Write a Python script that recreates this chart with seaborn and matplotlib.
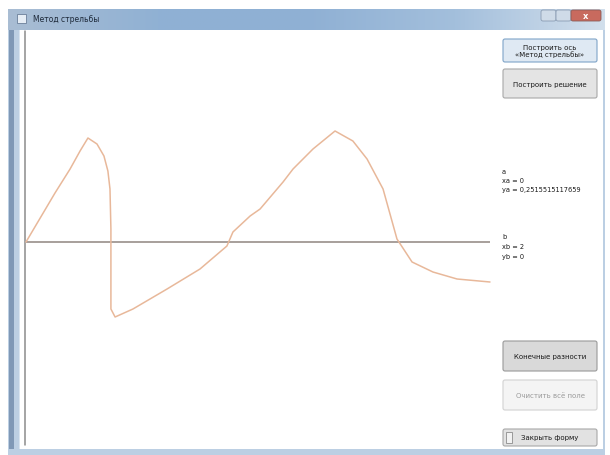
"""Recreate a screenshot of a small WinForms-style window with a solution curve."""
import matplotlib

matplotlib.use("Agg")

import matplotlib.pyplot as plt
import numpy as np
import seaborn as sns
from matplotlib.colors import LinearSegmentedColormap
from matplotlib.patches import FancyBboxPatch, Rectangle

# curve (x over [0, 2], y in arbitrary units)
x_vals = [0.000, 0.125, 0.190, 0.233, 0.267, 0.306, 0.336, 0.353, 0.362,
          0.366, 0.366, 0.366, 0.384, 0.461, 0.608, 0.750, 0.866, 0.892, 0.966,
          1.009, 1.108, 1.151, 1.237, 1.332, 1.409, 1.470, 1.539, 1.599, 1.664,
          1.754, 1.858, 2.000]
y_vals = [0.00, 0.49, 0.73, 0.91, 1.04, 0.98, 0.86, 0.71, 0.53,
          0.13, -0.37, -0.67, -0.75, -0.67, -0.47, -0.27, -0.04, 0.10, 0.26,
          0.33, 0.60, 0.73, 0.93, 1.11, 1.01, 0.83, 0.53, 0.03, -0.20,
          -0.30, -0.37, -0.40]

window_title = "Метод стрельбы"
button_labels = ["Построить ось\n«Метод стрельбы»", "Построить решение",
                 "Конечные разности", "Очистить всё поле", "Закрыть форму"]
point_a = ["a", "xa = 0", "ya = 0,2515515117659"]
point_b = ["b", "xb = 2", "yb = 0"]

# pixel mapping of the plotting area
X0_PX, PX_PER_X = 26, 232
Y0_PX, PX_PER_Y = 243, 100
W, H = 610, 456

sns.set_style("white")
plt.rcParams["font.family"] = ["DejaVu Sans"]

fig = plt.figure(figsize=(W / 100, H / 100), dpi=100)

# window chrome, drawn in pixel coordinates
bg = fig.add_axes([0, 0, 1, 1])
bg.set_xlim(0, W)
bg.set_ylim(H, 0)
bg.axis("off")

bg.add_patch(Rectangle((8, 10), 597, 446, color="#bccfe3", lw=0))
grad = np.linspace(0, 1, 256).reshape(1, -1)
aero = LinearSegmentedColormap.from_list(
    "aero", ["#a9bdd3", "#90b1d4", "#8fb0d4", "#a3bfdc", "#d2dfec"])
bg.imshow(grad, extent=[8, 605, 31, 10], cmap=aero, aspect="auto", zorder=1)
bg.add_patch(Rectangle((9, 31), 5, 419, color="#7f98b6", lw=0, zorder=1))
bg.add_patch(Rectangle((20, 31), 583, 419, color="white", lw=0, zorder=2))
bg.add_patch(Rectangle((19, 31), 1, 419, color="#d9e4ef", lw=0, zorder=2))

# caption buttons
bg.add_patch(FancyBboxPatch((541, 11), 15, 11, boxstyle="round,pad=0,rounding_size=2",
                            fc="#cfdbe8", ec="#8a9cb3", lw=0.6, zorder=3))
bg.add_patch(FancyBboxPatch((556, 11), 15, 11, boxstyle="round,pad=0,rounding_size=2",
                            fc="#cfdbe8", ec="#8a9cb3", lw=0.6, zorder=3))
bg.add_patch(FancyBboxPatch((571, 11), 30, 11, boxstyle="round,pad=0,rounding_size=2",
                            fc="#c86a5e", ec="#8a5a55", lw=0.6, zorder=3))
bg.text(586, 16.5, "x", fontsize=6, color="white", ha="center", va="center",
        fontweight="bold", zorder=4)

bg.add_patch(Rectangle((17, 15), 9, 9, fc="#e6edf5", ec="#6a7f99", lw=0.6, zorder=3))
bg.text(33, 20, window_title, fontsize=5.5, color="#1e2a3a", va="center", zorder=3)

# chart frame line on the left
bg.plot([25, 25], [32, 446], color="#8c8c8c", lw=1.1, zorder=3)

# right-hand buttons
buttons = [
    (503, 40, 94, 23, "#dfe9f3", "#7fa4c8", "#1a1a1a"),
    (503, 70, 94, 29, "#e4e4e4", "#a8a8a8", "#1a1a1a"),
    (503, 342, 94, 30, "#d9d9d9", "#9a9a9a", "#1a1a1a"),
    (503, 381, 94, 30, "#f4f4f4", "#d2d2d2", "#9a9a9a"),
    (503, 430, 94, 17, "#e2e2e2", "#a8a8a8", "#1a1a1a"),
]
for (bx, by, bw, bh, fc, ec, tc), label in zip(buttons, button_labels):
    bg.add_patch(FancyBboxPatch((bx, by), bw, bh, boxstyle="round,pad=0,rounding_size=2",
                                fc=fc, ec=ec, lw=0.8, zorder=3))
    bg.text(bx + bw / 2, by + bh / 2, label, fontsize=5, color=tc, ha="center",
            va="center", linespacing=1.1, zorder=4)
# small glyph at the left of the last button
bg.add_patch(Rectangle((506, 433), 6, 11, fc="#f2f2f2", ec="#8c8c8c", lw=0.6, zorder=4))

for i, line in enumerate(point_a):
    bg.text(502, 172 + 9 * i, line, fontsize=4.8, color="#1a1a1a", va="center", zorder=4)
for i, line in enumerate(point_b):
    bg.text(502, 237 + 10 * i, line, fontsize=4.8, color="#1a1a1a", va="center", zorder=4)

# plotting area aligned with the picture's pixels
ax = fig.add_axes([0, 0, 1, 1], zorder=5)
ax.patch.set_alpha(0)
ax.set_xlim((0 - X0_PX) / PX_PER_X, (W - X0_PX) / PX_PER_X)
ax.set_ylim((Y0_PX - H) / PX_PER_Y, Y0_PX / PX_PER_Y)
ax.axis("off")

ax.hlines(0, x_vals[0], x_vals[-1], color="#8f8580", lw=1.1)
sns.lineplot(x=x_vals, y=y_vals, sort=False, estimator=None, color="#e8b89a",
             lw=1.1, ax=ax)

fig.savefig("out.png", dpi=100)
